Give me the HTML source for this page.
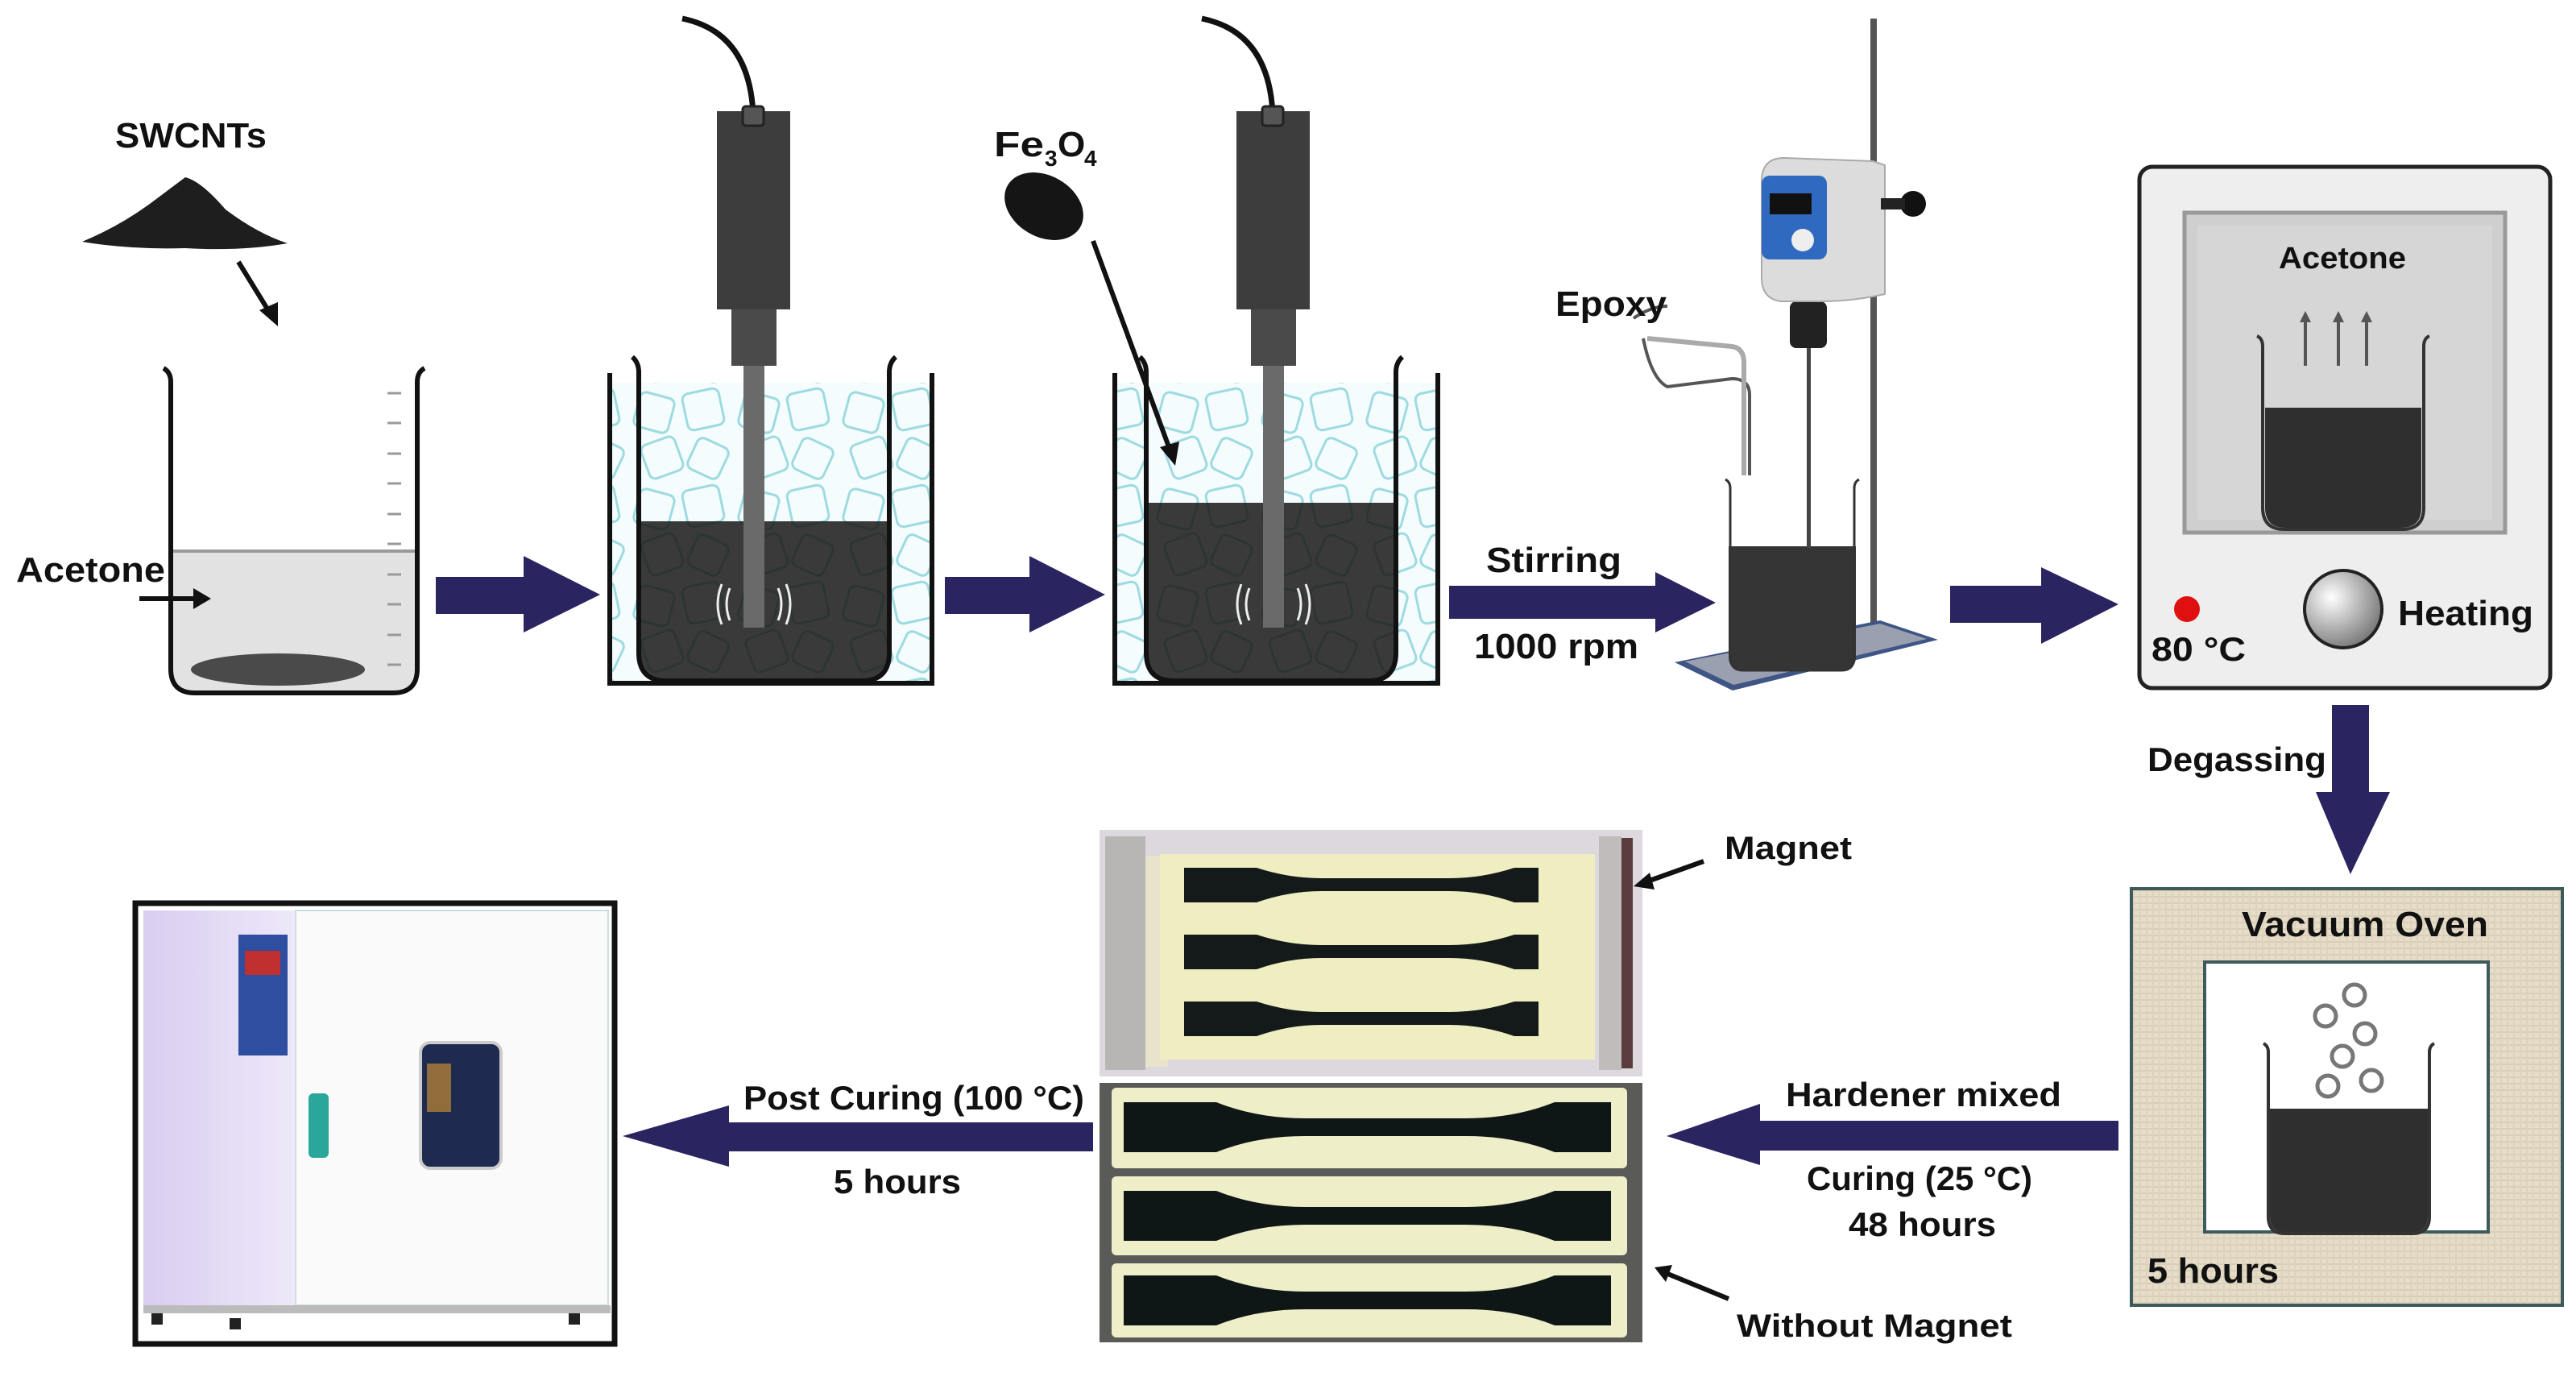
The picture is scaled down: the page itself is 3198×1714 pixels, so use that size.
<!DOCTYPE html>
<html><head><meta charset="utf-8"><style>
html,body{margin:0;padding:0;background:#fff;}
svg{display:block;}
text{font-family:"Liberation Sans",Arial,sans-serif;font-weight:bold;fill:#111;}
</style></head><body>
<svg width="3198" height="1714" viewBox="0 0 3198 1714" xmlns="http://www.w3.org/2000/svg">
<defs>
<pattern id="ice" width="130" height="120" patternUnits="userSpaceOnUse">
<rect width="130" height="120" fill="#f4fcfd"/>
<g fill="none" stroke="#9edbe0" stroke-width="3">
<rect x="10" y="10" width="44" height="44" rx="8" transform="rotate(15 32 32)"/>
<rect x="70" y="5" width="46" height="46" rx="8" transform="rotate(-12 93 28)"/>
<rect x="20" y="66" width="44" height="44" rx="8" transform="rotate(-20 42 88)"/>
<rect x="78" y="68" width="42" height="42" rx="8" transform="rotate(25 99 89)"/>
</g></pattern>
<pattern id="dk" width="130" height="120" patternUnits="userSpaceOnUse">
<rect width="130" height="120" fill="#3a3a3a"/>
<g fill="none" stroke="#2c3434" stroke-width="3">
<rect x="10" y="10" width="44" height="44" rx="8" transform="rotate(15 32 32)"/>
<rect x="70" y="5" width="46" height="46" rx="8" transform="rotate(-12 93 28)"/>
<rect x="20" y="66" width="44" height="44" rx="8" transform="rotate(-20 42 88)"/>
<rect x="78" y="68" width="42" height="42" rx="8" transform="rotate(25 99 89)"/>
</g></pattern>
<pattern id="burlap" width="8" height="8" patternUnits="userSpaceOnUse">
<rect width="8" height="8" fill="#e6ddc9"/>
<rect width="8" height="2" fill="#d8ceb8"/><rect width="2" height="8" fill="#ddd3bd"/>
</pattern>
<radialGradient id="knob" cx="0.35" cy="0.35" r="0.7"><stop offset="0" stop-color="#fff"/><stop offset="1" stop-color="#777"/></radialGradient>
<linearGradient id="lav" x1="0" x2="1"><stop offset="0" stop-color="#d9cdf0"/><stop offset="1" stop-color="#eee8fa"/></linearGradient>
</defs>

<!-- ===== Beaker 1 ===== -->
<text x="143" y="183" font-size="44" textLength="188" lengthAdjust="spacingAndGlyphs">SWCNTs</text>
<path d="M102,300 Q150,280 190,250 L230,220 Q250,225 280,260 Q320,290 357,302 Q300,312 230,308 Q160,310 102,300Z" fill="#1e1e1e"/>
<line x1="296" y1="325" x2="336" y2="390" stroke="#111" stroke-width="6"/>
<polygon points="345,405 322,385 345,375" fill="#111"/>
<path d="M213,684 L516,684 L516,830 Q516,858 488,858 L241,858 Q213,858 213,830Z" fill="#e2e2e2"/>
<line x1="213" y1="684" x2="516" y2="684" stroke="#999" stroke-width="4"/>
<ellipse cx="345" cy="831" rx="108" ry="20" fill="#4a4a4a"/>
<path d="M203,457 Q212,462 212,474 L212,830 Q212,860 242,860 L488,860 Q518,860 518,830 L518,474 Q518,462 527,457" fill="none" stroke="#111" stroke-width="6"/>
<g stroke="#999" stroke-width="3">
<line x1="481" y1="488" x2="498" y2="488"/><line x1="481" y1="525" x2="498" y2="525"/><line x1="481" y1="563" x2="498" y2="563"/><line x1="481" y1="600" x2="498" y2="600"/><line x1="481" y1="638" x2="498" y2="638"/><line x1="481" y1="675" x2="498" y2="675"/><line x1="481" y1="713" x2="498" y2="713"/><line x1="481" y1="750" x2="498" y2="750"/><line x1="481" y1="788" x2="498" y2="788"/><line x1="481" y1="825" x2="498" y2="825"/></g>
<text x="20" y="722" font-size="44" textLength="185" lengthAdjust="spacingAndGlyphs">Acetone</text>
<line x1="173" y1="743" x2="245" y2="743" stroke="#111" stroke-width="6"/>
<polygon points="262,743 240,730 240,756" fill="#111"/>

<!-- Arrow 1 -->
<polygon points="541,716 650,716 650,690 745,738 650,785 650,762 541,762" fill="#2a2460"/>

<!-- ===== Bath 2 ===== -->
<rect x="758" y="475" width="396" height="370" fill="url(#ice)"/>
<path d="M793,647 L1104,647 L1104,810 Q1104,845 1070,845 L827,845 Q793,845 793,810Z" fill="url(#dk)"/>
<path d="M785,443 Q793,450 793,462 L793,810 Q793,845 827,845 L1070,845 Q1104,845 1104,810 L1104,462 Q1104,450 1112,443" fill="none" stroke="#111" stroke-width="6"/>
<path d="M757,463 L757,848 L1157,848 L1157,463" fill="none" stroke="#111" stroke-width="6"/>
<path d="M847,23 Q930,40 935,141" fill="none" stroke="#111" stroke-width="7"/>
<rect x="890" y="138" width="91" height="246" fill="#3d3d3d"/>
<rect x="922" y="132" width="26" height="24" rx="4" fill="#555" stroke="#222" stroke-width="3"/>
<rect x="908" y="384" width="56" height="70" fill="#4a4a4a"/>
<rect x="923" y="454" width="26" height="325" fill="#6a6a6a"/>
<g fill="none" stroke="#eee" stroke-width="3"><path d="M906,730 Q898,750 906,770"/><path d="M896,725 Q886,750 896,775"/><path d="M966,730 Q974,750 966,770"/><path d="M976,725 Q986,750 976,775"/></g>

<!-- Arrow 2 -->
<polygon points="1173,716 1278,716 1278,690 1372,738 1278,785 1278,762 1173,762" fill="#2a2460"/>

<!-- ===== Bath 3 ===== -->
<rect x="1386" y="475" width="396" height="370" fill="url(#ice)"/>
<path d="M1423,624 L1733,624 L1733,810 Q1733,845 1699,845 L1457,845 Q1423,845 1423,810Z" fill="url(#dk)"/>
<path d="M1415,443 Q1423,450 1423,462 L1423,810 Q1423,845 1457,845 L1699,845 Q1733,845 1733,810 L1733,462 Q1733,450 1741,443" fill="none" stroke="#111" stroke-width="6"/>
<path d="M1384,463 L1384,848 L1785,848 L1785,463" fill="none" stroke="#111" stroke-width="6"/>
<path d="M1492,23 Q1575,40 1580,141" fill="none" stroke="#111" stroke-width="7"/>
<rect x="1535" y="138" width="91" height="246" fill="#3d3d3d"/>
<rect x="1567" y="132" width="26" height="24" rx="4" fill="#555" stroke="#222" stroke-width="3"/>
<rect x="1553" y="384" width="56" height="70" fill="#4a4a4a"/>
<rect x="1568" y="454" width="26" height="325" fill="#6a6a6a"/>
<g fill="none" stroke="#eee" stroke-width="3"><path d="M1551,730 Q1543,750 1551,770"/><path d="M1541,725 Q1531,750 1541,775"/><path d="M1611,730 Q1619,750 1611,770"/><path d="M1621,725 Q1631,750 1621,775"/></g>
<text x="1234" y="194" font-size="44" textLength="62" lengthAdjust="spacingAndGlyphs">Fe</text>
<text x="1297" y="206" font-size="28">3</text>
<text x="1313" y="194" font-size="44">O</text>
<text x="1346" y="206" font-size="28">4</text>
<ellipse cx="1296" cy="256" rx="52" ry="38" transform="rotate(30 1296 256)" fill="#151515"/>
<line x1="1357" y1="299" x2="1453" y2="560" stroke="#111" stroke-width="6"/>
<polygon points="1459,578 1440,555 1464,548" fill="#111"/>

<!-- Stirring arrow -->
<text x="1845" y="710" font-size="44" textLength="168" lengthAdjust="spacingAndGlyphs">Stirring</text>
<polygon points="1799,727 2055,727 2055,710 2130,748 2055,785 2055,768 1799,768" fill="#2a2460"/>
<text x="1830" y="817" font-size="44" textLength="204" lengthAdjust="spacingAndGlyphs">1000 rpm</text>

<!-- ===== Stirrer ===== -->
<rect x="2322" y="23" width="8" height="770" fill="#555"/>
<polygon points="2079,822 2334,770 2406,794 2151,857" fill="#3f5586"/>
<polygon points="2092,821 2334,774 2392,793 2152,850" fill="#9aa0b0"/>
<path d="M2028,395 Q2050,380 2070,380 M2040,420 Q2050,470 2070,480 L2150,470 Q2172,470 2172,490 L2172,590" fill="none" stroke="#555" stroke-width="4"/>
<path d="M2045,420 L2150,430 Q2165,432 2165,450 L2165,590" fill="none" stroke="#aaa" stroke-width="6"/>
<text x="1931" y="392" font-size="44" textLength="138" lengthAdjust="spacingAndGlyphs">Epoxy</text>
<path d="M2146,678 L2304,678 L2304,815 Q2304,831 2288,831 L2162,831 Q2146,831 2146,815Z" fill="#353535"/>
<path d="M2142,595 Q2148,598 2148,606 L2148,815 Q2148,832 2164,832 L2286,832 Q2302,832 2302,815 L2302,606 Q2302,598 2308,595" fill="none" stroke="#333" stroke-width="3"/>
<rect x="2243" y="430" width="5" height="250" fill="#444"/>
<rect x="2222" y="374" width="46" height="58" rx="8" fill="#222"/>
<path d="M2187,225 Q2187,196 2215,196 L2325,200 L2340,205 L2340,365 Q2300,374 2260,374 L2210,374 Q2187,370 2187,345Z" fill="#dcdcdc" stroke="#aaa" stroke-width="2"/>
<rect x="2187" y="218" width="81" height="104" rx="10" fill="#2f6ac0"/>
<rect x="2197" y="240" width="52" height="26" fill="#111"/>
<circle cx="2238" cy="298" r="14" fill="#eee"/>
<circle cx="2375" cy="253" r="16" fill="#111"/><rect x="2335" y="246" width="30" height="14" fill="#222"/>

<!-- Arrow 4 -->
<polygon points="2421,727 2534,727 2534,704 2630,750 2534,799 2534,773 2421,773" fill="#2a2460"/>

<!-- ===== Heating box ===== -->
<rect x="2656" y="207" width="510" height="647" rx="16" fill="#eeeeee" stroke="#222" stroke-width="5"/>
<rect x="2712" y="264" width="398" height="397" fill="#cfcfcf" stroke="#999" stroke-width="5"/>
<rect x="2728" y="280" width="366" height="365" fill="#d6d6d6"/>
<text x="2829" y="333" font-size="38" textLength="158" lengthAdjust="spacingAndGlyphs">Acetone</text>
<path d="M2812,506 L3006,506 L3006,630 Q3006,655 2981,655 L2837,655 Q2812,655 2812,630Z" fill="#2f2f2f"/>
<path d="M2802,417 Q2809,420 2809,430 L2809,630 Q2809,657 2836,657 L2982,657 Q3009,657 3009,630 L3009,430 Q3009,420 3016,417" fill="none" stroke="#333" stroke-width="4"/>
<g stroke="#555" stroke-width="4"><line x1="2862" y1="454" x2="2862" y2="396"/><line x1="2903" y1="454" x2="2903" y2="396"/><line x1="2938" y1="454" x2="2938" y2="396"/></g>
<g fill="#555"><polygon points="2862,386 2855,400 2869,400"/><polygon points="2903,386 2896,400 2910,400"/><polygon points="2938,386 2931,400 2945,400"/></g>
<circle cx="2715" cy="756" r="16" fill="#e01010"/>
<text x="2671" y="820" font-size="42" textLength="117" lengthAdjust="spacingAndGlyphs">80 °C</text>
<circle cx="2909" cy="756" r="48" fill="url(#knob)" stroke="#222" stroke-width="4"/>
<text x="2977" y="776" font-size="44" textLength="168" lengthAdjust="spacingAndGlyphs">Heating</text>

<!-- Degassing arrow -->
<polygon points="2895,875 2941,875 2941,983 2967,983 2918,1085 2875,983 2895,983" fill="#2a2460"/>
<text x="2666" y="957" font-size="42" textLength="222" lengthAdjust="spacingAndGlyphs">Degassing</text>

<!-- ===== Vacuum oven ===== -->
<rect x="2646" y="1103" width="535" height="517" fill="url(#burlap)" stroke="#3f5a5a" stroke-width="4"/>
<rect x="2737" y="1194" width="352" height="335" fill="#fff" stroke="#3f5a5a" stroke-width="4"/>
<text x="2783" y="1162" font-size="44" textLength="306" lengthAdjust="spacingAndGlyphs">Vacuum Oven</text>
<text x="2666" y="1592" font-size="44" textLength="163" lengthAdjust="spacingAndGlyphs">5 hours</text>
<path d="M2818,1376 L3014,1376 L3014,1510 Q3014,1529 2995,1529 L2837,1529 Q2818,1529 2818,1510Z" fill="#2f2f2f"/>
<path d="M2810,1295 Q2816,1298 2816,1306 L2816,1510 Q2816,1531 2837,1531 L2995,1531 Q3016,1531 3016,1510 L3016,1306 Q3016,1298 3022,1295" fill="none" stroke="#333" stroke-width="4"/>
<g fill="none" stroke="#777" stroke-width="5"><circle cx="2923" cy="1235" r="13"/><circle cx="2887" cy="1261" r="13"/><circle cx="2936" cy="1283" r="13"/><circle cx="2908" cy="1311" r="13"/><circle cx="2944" cy="1341" r="13"/><circle cx="2890" cy="1348" r="13"/></g>

<!-- Hardener arrow -->
<polygon points="2630,1391 2185,1391 2185,1370 2069,1410 2185,1446 2185,1428 2630,1428" fill="#2a2460"/>
<text x="2217" y="1373" font-size="42" textLength="342" lengthAdjust="spacingAndGlyphs">Hardener mixed</text>
<text x="2243" y="1477" font-size="42" textLength="280" lengthAdjust="spacingAndGlyphs">Curing (25 °C)</text>
<text x="2295" y="1534" font-size="42" textLength="183" lengthAdjust="spacingAndGlyphs">48 hours</text>

<!-- ===== Photos ===== -->
<rect x="1365" y="1030" width="674" height="306" fill="#dcd8de"/>
<rect x="1372" y="1038" width="50" height="290" fill="#b8b6b4"/>
<rect x="1422" y="1062" width="28" height="262" fill="#e8e4cc"/>
<rect x="1985" y="1038" width="28" height="290" fill="#c0bcbc"/>
<rect x="2013" y="1040" width="14" height="286" fill="#5a3c3c"/>
<rect x="1440" y="1060" width="540" height="255" fill="#efeec0"/>
<g fill="#141a1a">
<path d="M1470,1077 L1560,1077 Q1600,1090 1640,1090 L1800,1090 Q1840,1090 1880,1077 L1910,1077 L1910,1120 L1880,1120 Q1840,1106 1800,1106 L1640,1106 Q1600,1106 1560,1120 L1470,1120Z"/>
<path d="M1470,1160 L1560,1160 Q1600,1173 1640,1173 L1800,1173 Q1840,1173 1880,1160 L1910,1160 L1910,1203 L1880,1203 Q1840,1189 1800,1189 L1640,1189 Q1600,1189 1560,1203 L1470,1203Z"/>
<path d="M1470,1243 L1560,1243 Q1600,1256 1640,1256 L1800,1256 Q1840,1256 1880,1243 L1910,1243 L1910,1286 L1880,1286 Q1840,1272 1800,1272 L1640,1272 Q1600,1272 1560,1286 L1470,1286Z"/>
</g>
<rect x="1365" y="1344" width="674" height="322" fill="#5a5a58"/>
<g fill="#eeeec8"><rect x="1380" y="1350" width="640" height="100" rx="6"/><rect x="1380" y="1460" width="640" height="98" rx="6"/><rect x="1380" y="1568" width="640" height="92" rx="6"/></g>
<g fill="#0e1616">
<path d="M1395,1368 L1510,1368 Q1560,1388 1620,1388 L1820,1388 Q1880,1388 1930,1368 L2000,1368 L2000,1430 L1930,1430 Q1880,1410 1820,1410 L1620,1410 Q1560,1410 1510,1430 L1395,1430Z"/>
<path d="M1395,1478 L1510,1478 Q1560,1498 1620,1498 L1820,1498 Q1880,1498 1930,1478 L2000,1478 L2000,1540 L1930,1540 Q1880,1520 1820,1520 L1620,1520 Q1560,1520 1510,1540 L1395,1540Z"/>
<path d="M1395,1583 L1510,1583 Q1560,1603 1620,1603 L1820,1603 Q1880,1603 1930,1583 L2000,1583 L2000,1645 L1930,1645 Q1880,1625 1820,1625 L1620,1625 Q1560,1625 1510,1645 L1395,1645Z"/>
</g>
<text x="2141" y="1066" font-size="40" textLength="158" lengthAdjust="spacingAndGlyphs">Magnet</text>
<line x1="2115" y1="1069" x2="2045" y2="1094" stroke="#111" stroke-width="6"/>
<polygon points="2028,1100 2048,1083 2054,1104" fill="#111"/>
<text x="2156" y="1659" font-size="40" textLength="342" lengthAdjust="spacingAndGlyphs">Without Magnet</text>
<line x1="2146" y1="1612" x2="2068" y2="1580" stroke="#111" stroke-width="6"/>
<polygon points="2054,1573 2076,1570 2068,1591" fill="#111"/>

<!-- Post curing arrow -->
<polygon points="1357,1393 905,1393 905,1372 773,1410 905,1448 905,1429 1357,1429" fill="#2a2460"/>
<text x="923" y="1377" font-size="42" textLength="423" lengthAdjust="spacingAndGlyphs">Post Curing (100 °C)</text>
<text x="1035" y="1481" font-size="42" textLength="158" lengthAdjust="spacingAndGlyphs">5 hours</text>

<!-- ===== Oven photo ===== -->
<rect x="168" y="1121" width="595" height="547" fill="#fff" stroke="#111" stroke-width="7"/>
<rect x="178" y="1130" width="189" height="497" fill="url(#lav)"/>
<rect x="367" y="1130" width="388" height="490" fill="#fafafa" stroke="#cdd" stroke-width="2"/>
<rect x="296" y="1160" width="61" height="150" fill="#2e4ea0"/>
<rect x="304" y="1180" width="44" height="30" fill="#c03030"/>
<rect x="522" y="1294" width="100" height="156" rx="12" fill="#1e2a50" stroke="#ccc" stroke-width="4"/>
<rect x="530" y="1320" width="30" height="60" fill="#c08a30" opacity="0.7"/>
<rect x="383" y="1357" width="25" height="80" rx="6" fill="#2aa79a"/>
<rect x="178" y="1620" width="580" height="10" fill="#bbb"/>
<g fill="#222"><rect x="188" y="1630" width="14" height="14"/><rect x="285" y="1636" width="14" height="14"/><rect x="706" y="1630" width="14" height="14"/></g>
</svg>
</body></html>
